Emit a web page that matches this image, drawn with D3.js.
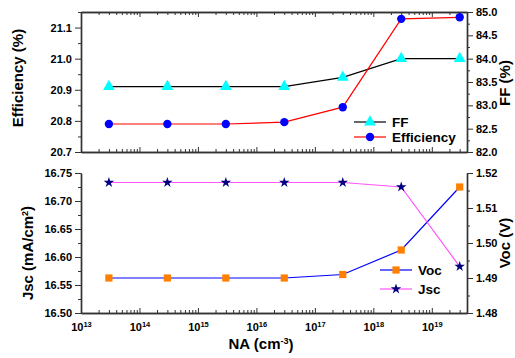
<!DOCTYPE html>
<html>
<head>
<meta charset="utf-8">
<script src="https://cdn.jsdelivr.net/npm/d3@7/dist/d3.min.js"></script>
<style>
  html, body { margin: 0; padding: 0; background: #fff; }
  svg { display: block; font-family: "Liberation Sans", Arial, sans-serif; font-weight: bold; }
</style>
</head>
<body>
<svg id="chart" width="515" height="358"></svg>
<script>
// Doping concentration sweep (cm^-3)
const naValues = [3e13, 3e14, 3e15, 3e16, 3e17, 3e18, 3e19];
// Top panel
const efficiency = [20.79, 20.79, 20.79, 20.796, 20.844, 21.128, 21.133]; // %
const fillFactor = [83.4, 83.4, 83.4, 83.4, 83.6, 84.0, 84.0];           // %
// Bottom panel
const jsc = [16.733, 16.733, 16.733, 16.733, 16.733, 16.725, 16.583];     // mA/cm^2
const voc = [1.490, 1.490, 1.490, 1.490, 1.491, 1.498, 1.516];            // V

const xTickExponents = [13, 14, 15, 16, 17, 18, 19];
const effTicks = [20.7, 20.8, 20.9, 21.0, 21.1];
const ffTicks = [82.0, 82.5, 83.0, 83.5, 84.0, 84.5, 85.0];
const jscTicks = [16.50, 16.55, 16.60, 16.65, 16.70, 16.75];
const vocTicks = [1.48, 1.49, 1.50, 1.51, 1.52];

const svg = d3.select("#chart");
const L = 81, R = 467;
const top1 = 12, bot1 = 152, top2 = 173, bot2 = 313;

const x = d3.scaleLog().domain([1e13, 4e19]).range([L, R]);
const yEff = d3.scaleLinear().domain([20.7, 21.15]).range([bot1, top1]);
const yFF = d3.scaleLinear().domain([82, 85]).range([bot1, top1]);
const yJsc = d3.scaleLinear().domain([16.50, 16.75]).range([bot2, top2]);
const yVoc = d3.scaleLinear().domain([1.48, 1.52]).range([bot2, top2]);

// minor ticks for the log axis: 2..9 in each decade
const xMinor = [];
for (let e = 13; e <= 19; e++) for (let m = 2; m <= 9; m++) {
  const v = m * Math.pow(10, e);
  if (v <= 4e19) xMinor.push(v);
}
const xMajor = xTickExponents.map(e => Math.pow(10, e));

function minorsOf(ticks, step, dom) {
  const out = [];
  for (let v = dom[0]; v <= dom[1] + 1e-9; v += step) out.push(+v.toFixed(6));
  return out.filter(v => !ticks.some(t => Math.abs(t - v) < 1e-7));
}

function styleAxis(g) {
  g.selectAll("path.domain").attr("stroke", "#333").attr("stroke-width", 1.4);
  g.selectAll(".tick line").attr("stroke", "#333").attr("stroke-width", 1);
  g.selectAll("text").attr("font-size", 11).attr("font-weight", "bold").attr("fill", "#000")
    .attr("font-family", "Liberation Sans, Arial, sans-serif");
}

function drawAxis(axisGen, tx, ty) {
  const g = svg.append("g").attr("transform", `translate(${tx},${ty})`).call(axisGen);
  styleAxis(g);
  return g;
}

// ---------- x axes (ticks pointing inward) ----------
function xAxisAt(yPos, withLabels) {
  drawAxis(d3.axisBottom(x).tickValues(xMinor).tickSizeInner(-3).tickSizeOuter(0).tickFormat(""), 0, yPos);
  const g = drawAxis(d3.axisBottom(x).tickValues(xMajor).tickSizeInner(-5).tickSizeOuter(0)
    .tickPadding(8).tickFormat(withLabels ? (d => "") : ""), 0, yPos);
  if (withLabels) {
    g.selectAll(".tick text").each(function(d) {
      const t = d3.select(this).attr("dy", "0.95em");
      t.text(null);
      t.append("tspan").text("10");
      t.append("tspan").attr("font-size", 7.5).attr("dy", "-0.55em").text(Math.round(Math.log10(d)));
    });
  }
}
xAxisAt(bot1, false);
xAxisAt(bot2, true);
// top frame of the upper panel with downward ticks
drawAxis(d3.axisTop(x).tickValues(xMinor).tickSizeInner(-3).tickSizeOuter(0).tickFormat(""), 0, top1);
drawAxis(d3.axisTop(x).tickValues(xMajor).tickSizeInner(-5).tickSizeOuter(0).tickFormat(""), 0, top1);

// ---------- y axes ----------
function yPair(scale, ticks, step, fmt, side, xPos) {
  const mk = side === "left" ? d3.axisLeft : d3.axisRight;
  drawAxis(mk(scale).tickValues(minorsOf(ticks, step, scale.domain())).tickSizeInner(3).tickSizeOuter(0).tickFormat(""), xPos, 0);
  drawAxis(mk(scale).tickValues(ticks).tickSizeInner(6).tickSizeOuter(0).tickPadding(3).tickFormat(d3.format(fmt)), xPos, 0);
}
yPair(yEff, effTicks, 0.05, ".1f", "left", L);
yPair(yFF, ffTicks, 0.25, ".1f", "right", R);
yPair(yJsc, jscTicks, 0.025, ".2f", "left", L);
yPair(yVoc, vocTicks, 0.005, ".2f", "right", R);

// ---------- series ----------
function series(scale, values, lineColor, symbol, size, fill) {
  const pts = naValues.map((n, i) => [x(n), scale(values[i])]);
  svg.append("path").datum(pts)
    .attr("d", d3.line())
    .attr("fill", "none").attr("stroke", lineColor).attr("stroke-width", 1.2);
  svg.append("g").selectAll("path").data(pts).join("path")
    .attr("transform", d => `translate(${d[0]},${d[1]})`)
    .attr("d", d3.symbol().type(symbol).size(size))
    .attr("fill", fill);
}
series(yFF, fillFactor, "#000000", d3.symbolTriangle, 60, "#00ffff");
series(yEff, efficiency, "#ff0000", d3.symbolCircle, 55, "#0000ff");
series(yVoc, voc, "#0000ff", d3.symbolSquare, 52, "#ff8000");
series(yJsc, jsc, "#ff55ff", d3.symbolStar, 34, "#000080");

// ---------- legends ----------
function legendItem(xs, y, lineColor, symbol, size, fill, label) {
  svg.append("line").attr("x1", xs).attr("x2", xs + 32).attr("y1", y).attr("y2", y)
    .attr("stroke", lineColor).attr("stroke-width", 1.2);
  svg.append("path").attr("transform", `translate(${xs + 16},${y})`)
    .attr("d", d3.symbol().type(symbol).size(size)).attr("fill", fill);
  svg.append("text").attr("x", xs + 38).attr("y", y).attr("dy", "0.36em")
    .attr("font-size", 13.5).text(label);
}
legendItem(354, 122, "#000000", d3.symbolTriangle, 60, "#00ffff", "FF");
legendItem(354, 137, "#ff0000", d3.symbolCircle, 55, "#0000ff", "Efficiency");
legendItem(380, 270, "#0000ff", d3.symbolSquare, 52, "#ff8000", "Voc");
legendItem(380, 289, "#ff55ff", d3.symbolStar, 34, "#000080", "Jsc");

// ---------- axis titles (all read bottom-to-top) ----------
function vTitle(xc, yc) {
  return svg.append("text").attr("text-anchor", "middle").attr("font-size", 15)
    .attr("transform", `translate(${xc},${yc}) rotate(-90)`);
}
vTitle(18, 78).attr("dy", "0.35em").text("Efficiency (%)");
vTitle(510, 83).text("FF (%)");
const jt = vTitle(28, 253).attr("dy", "0.35em");
jt.append("tspan").text("Jsc (mA/cm");
jt.append("tspan").attr("font-size", 9).attr("dy", "-0.6em").text("2");
jt.append("tspan").attr("dy", "0.3em").text(")");
vTitle(510, 243).text("Voc (V)");

const xt = svg.append("text").attr("x", 261).attr("y", 349).attr("text-anchor", "middle").attr("font-size", 15);
xt.append("tspan").text("NA (cm");
xt.append("tspan").attr("font-size", 9).attr("dy", "-0.6em").text("-3");
xt.append("tspan").attr("dy", "0.4em").text(")");
</script>
</body>
</html>
